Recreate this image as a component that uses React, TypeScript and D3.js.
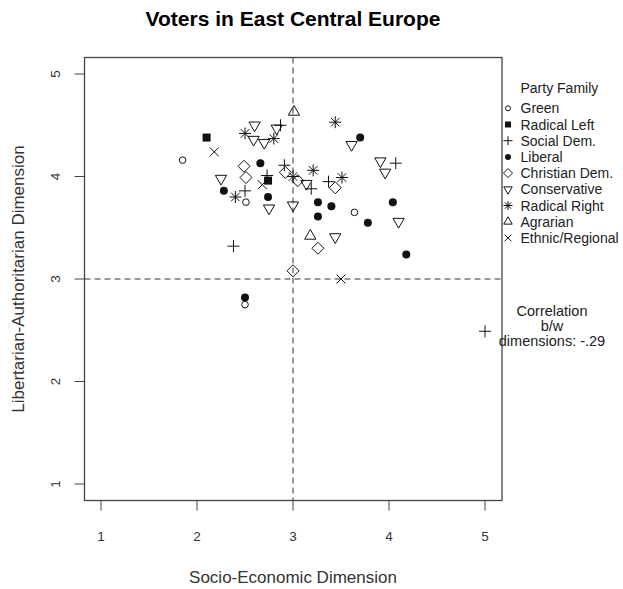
import React from "react";
import * as d3 from "d3";

// party family points: [socio-economic, libertarian-authoritarian]
const green: [number, number][] = [[1.85, 4.16], [2.51, 3.75], [3.64, 3.65], [2.5, 2.75]];
const radicalLeft: [number, number][] = [[2.1, 4.38], [2.74, 3.96]];
const socialDem: [number, number][] = [
  [2.87, 4.5], [2.5, 3.86], [2.73, 4.01], [2.91, 4.11], [3.19, 3.88],
  [3.37, 3.95], [4.07, 4.13], [2.38, 3.32], [5.0, 2.49],
];
const liberal: [number, number][] = [
  [2.66, 4.13], [2.28, 3.86], [2.74, 3.8], [3.26, 3.75], [3.26, 3.61], [3.4, 3.71],
  [3.7, 4.38], [4.04, 3.75], [3.78, 3.55], [4.18, 3.24], [2.5, 2.82],
];
const christianDem: [number, number][] = [
  [2.49, 4.1], [2.51, 3.99], [2.92, 4.04], [3.05, 3.96], [3.44, 3.89], [3.26, 3.3], [3.0, 3.08],
];
const conservative: [number, number][] = [
  [2.6, 4.5], [2.59, 4.36], [2.7, 4.33], [2.83, 4.47], [2.25, 3.98], [2.75, 3.69], [3.0, 3.72],
  [3.14, 3.93], [3.61, 4.31], [3.91, 4.15], [3.96, 4.04], [4.1, 3.56], [3.44, 3.41],
];
const radicalRight: [number, number][] = [
  [2.5, 4.42], [2.8, 4.37], [2.4, 3.8], [3.0, 4.0], [3.21, 4.06], [3.44, 4.53], [3.51, 3.99],
];
const agrarian: [number, number][] = [[3.01, 4.63], [3.18, 3.42]];
const ethnic: [number, number][] = [[2.18, 4.24], [2.68, 3.92], [3.5, 3.0]];

const familyNames = [
  "Green", "Radical Left", "Social Dem.", "Liberal", "Christian Dem.",
  "Conservative", "Radical Right", "Agrarian", "Ethnic/Regional",
];
const familyShapes = [
  "circleOpen", "square", "plus", "circleFilled", "diamond",
  "triangleDown", "asterisk", "triangleUp", "times",
];
const familyData = [
  green, radicalLeft, socialDem, liberal, christianDem,
  conservative, radicalRight, agrarian, ethnic,
];

const xTicks = [1, 2, 3, 4, 5];
const yTicks = [1, 2, 3, 4, 5];

const ink = "#111";
const axisCol = "#444";
const font = "'Liberation Sans', Arial, sans-serif";

// draw an R-like plotting symbol at (0,0)
const Symbol = ({ shape, scale = 1 }: { shape: string; scale?: number }) => {
  const s = scale;
  const common = { fill: "none", stroke: ink, strokeWidth: 1 };
  switch (shape) {
    case "circleOpen":
      return <circle r={3.3 * s} {...common} />;
    case "circleFilled":
      return <circle r={4 * s} fill={ink} />;
    case "square":
      return <rect x={-4 * s} y={-4 * s} width={8 * s} height={8 * s} fill={ink} />;
    case "plus": {
      const r = 6 * s;
      return <path d={`M${-r},0H${r}M0,${-r}V${r}`} {...common} />;
    }
    case "times": {
      const r = 4.5 * s;
      return <path d={`M${-r},${-r}L${r},${r}M${-r},${r}L${r},${-r}`} {...common} />;
    }
    case "asterisk": {
      const r = 6 * s;
      const t = 4.3 * s;
      return (
        <path
          d={`M${-r},0H${r}M0,${-r}V${r}M${-t},${-t}L${t},${t}M${-t},${t}L${t},${-t}`}
          {...common}
        />
      );
    }
    case "diamond": {
      const r = 6 * s;
      return <path d={`M0,${-r}L${r},0L0,${r}L${-r},0Z`} {...common} />;
    }
    case "triangleUp": {
      const r = 6.5 * s;
      return (
        <path
          d={`M0,${-r}L${r * 0.866},${r / 2}L${-r * 0.866},${r / 2}Z`}
          {...common}
        />
      );
    }
    case "triangleDown": {
      const r = 6.5 * s;
      return (
        <path
          d={`M0,${r}L${r * 0.866},${-r / 2}L${-r * 0.866},${-r / 2}Z`}
          {...common}
        />
      );
    }
    default:
      return null;
  }
};

export default function App() {
  const width = 623;
  const height = 589;
  // plot box (pixels) and scale ranges
  const box = { left: 84.5, right: 502, top: 57.5, bottom: 500.5 };
  const x = d3.scaleLinear().domain([1, 5]).range([101, 485]);
  const y = d3.scaleLinear().domain([1, 5]).range([484, 74]);

  const legendX = 508;
  const legendTop = 108.3;
  const legendStep = 16.2;

  return (
    <svg
      width={width}
      height={height}
      style={{ position: "absolute", left: 0, top: 0, background: "#fff" }}
      fontFamily={font}
    >
      <rect width={width} height={height} fill="#fff" />
      <text
        x={293}
        y={26}
        textAnchor="middle"
        fontSize={21}
        fontWeight="bold"
        fill="#000"
      >
        Voters in East Central Europe
      </text>

      {/* reference lines */}
      <line
        x1={x(3)}
        x2={x(3)}
        y1={box.top}
        y2={box.bottom}
        stroke="#333"
        strokeDasharray="6,4"
      />
      <line
        x1={box.left}
        x2={box.right}
        y1={y(3)}
        y2={y(3)}
        stroke="#333"
        strokeDasharray="6,4"
      />

      {/* points */}
      {familyData.map((pts, i) =>
        pts.map((d, j) => (
          <g key={`${i}-${j}`} transform={`translate(${x(d[0])},${y(d[1])})`}>
            <Symbol shape={familyShapes[i]} />
          </g>
        ))
      )}

      {/* plot box */}
      <rect
        x={box.left}
        y={box.top}
        width={box.right - box.left}
        height={box.bottom - box.top}
        fill="none"
        stroke={axisCol}
        strokeWidth={1.3}
      />

      {/* x axis */}
      {xTicks.map((t) => (
        <g key={`x${t}`}>
          <line x1={x(t)} x2={x(t)} y1={box.bottom} y2={box.bottom + 10} stroke={axisCol} />
          <text x={x(t)} y={541} textAnchor="middle" fontSize={13.5} fill="#333">
            {t}
          </text>
        </g>
      ))}
      {/* y axis */}
      {yTicks.map((t) => (
        <g key={`y${t}`}>
          <line x1={box.left - 10} x2={box.left} y1={y(t)} y2={y(t)} stroke={axisCol} />
          <text
            transform={`translate(60,${y(t)}) rotate(-90)`}
            textAnchor="middle"
            fontSize={13.5}
            fill="#333"
          >
            {t}
          </text>
        </g>
      ))}

      <text x={293} y={583} textAnchor="middle" fontSize={17} fill="#333">
        Socio-Economic Dimension
      </text>
      <text
        transform={`translate(24,${(box.top + box.bottom) / 2}) rotate(-90)`}
        textAnchor="middle"
        fontSize={17}
        fill="#333"
      >
        Libertarian-Authoritarian Dimension
      </text>

      {/* legend */}
      <text x={520.5} y={92.5} fontSize={14} fill="#222">
        Party Family
      </text>
      {familyNames.map((name, i) => (
        <g key={name} transform={`translate(0,${legendTop + i * legendStep})`}>
          <g transform={`translate(${legendX},0)`}>
            <Symbol shape={familyShapes[i]} scale={0.75} />
          </g>
          <text x={520.5} y={5} fontSize={14} fill="#222">
            {name}
          </text>
        </g>
      ))}

      {/* correlation note */}
      <g fontSize={14.5} fill="#222" textAnchor="middle">
        <text x={552} y={316}>Correlation</text>
        <text x={552} y={331}>b/w</text>
        <text x={552} y={346}>dimensions: -.29</text>
      </g>
    </svg>
  );
}
